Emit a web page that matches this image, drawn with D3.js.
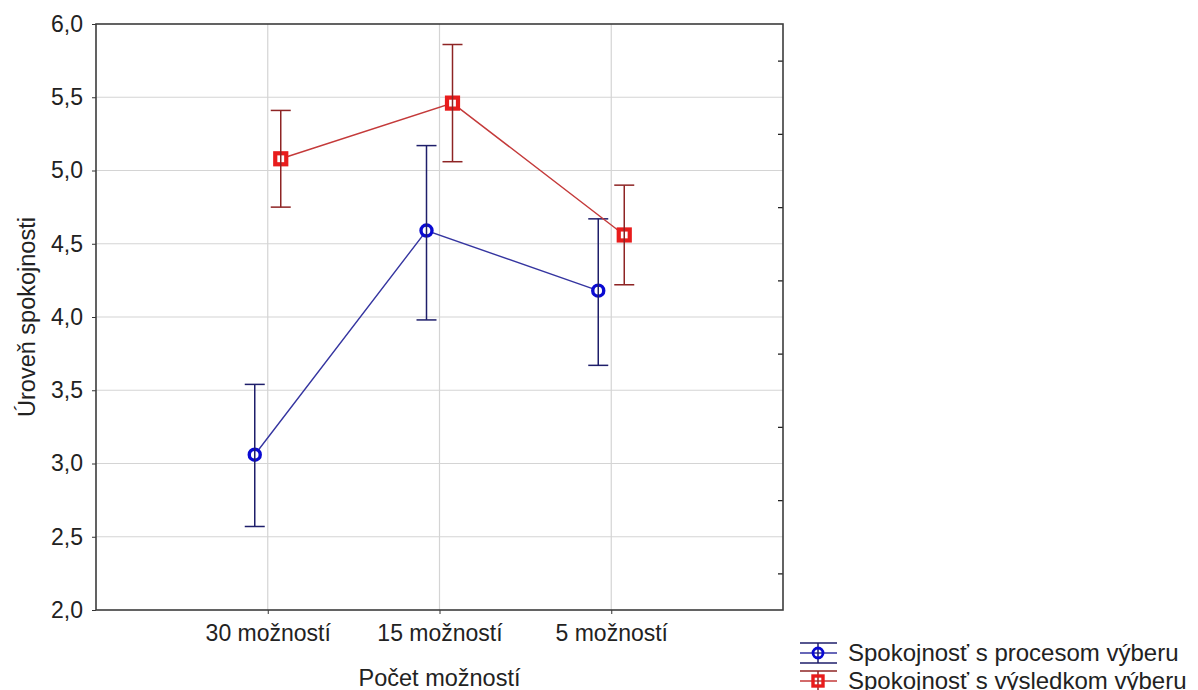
<!DOCTYPE html>
<meta charset="utf-8">
<head>
<script src="https://d3js.org/d3.v7.min.js"></script>
<style>
  body { margin: 0; background: #fff; font-family: "Liberation Sans", Arial, sans-serif; }
</style>
</head>
<body>
<div id="my_dataviz"></div>
<script>

// categories on the x axis
var categories = ["30 možností", "15 možností", "5 možností"];

// series 1: satisfaction with the process
var procesMean = [3.06, 4.59, 4.18];
var procesLow  = [2.57, 3.98, 3.67];
var procesHigh = [3.54, 5.17, 4.67];

// series 2: satisfaction with the result
var vysledokMean = [5.08, 5.46, 4.56];
var vysledokLow  = [4.75, 5.06, 4.22];
var vysledokHigh = [5.41, 5.86, 4.90];

var yTicks = [2.0, 2.5, 3.0, 3.5, 4.0, 4.5, 5.0, 5.5, 6.0];
var yMinor = [2.25, 2.75, 3.25, 3.75, 4.25, 4.75, 5.25, 5.75];

var seriesNames = ["Spokojnosť s procesom výberu", "Spokojnosť s výsledkom výberu"];

// plot area
var margin = {top: 24, right: 415, bottom: 80, left: 96},
    W = 1198, H = 690,
    width = W - margin.left - margin.right,
    height = H - margin.top - margin.bottom;

var svg = d3.select("#my_dataviz")
  .append("svg")
    .attr("width", W)
    .attr("height", H)
  .append("g")
    .attr("transform", "translate(" + margin.left + "," + margin.top + ")");

var x = d3.scalePoint()
  .domain(categories)
  .range([0, width])
  .padding(1);

var y = d3.scaleLinear()
  .domain([2, 6])
  .range([height, 0]);

var fmt = function(d) { return d3.format(".1f")(d).replace(".", ","); };

// grid lines
svg.append("g")
  .selectAll("line")
  .data(yTicks.slice(1, -1))
  .enter().append("line")
    .attr("x1", 0).attr("x2", width)
    .attr("y1", function(d) { return y(d); })
    .attr("y2", function(d) { return y(d); })
    .attr("stroke", "#d4d4d4").attr("stroke-width", 1.2);

svg.append("g")
  .selectAll("line")
  .data(categories)
  .enter().append("line")
    .attr("x1", function(d) { return x(d); })
    .attr("x2", function(d) { return x(d); })
    .attr("y1", 0).attr("y2", height)
    .attr("stroke", "#d4d4d4").attr("stroke-width", 1.2);

// left axis
var yAxis = svg.append("g")
  .call(d3.axisLeft(y).tickValues(yTicks).tickFormat(fmt).tickSize(4).tickPadding(9));
yAxis.select(".domain").remove();
yAxis.selectAll("line").attr("stroke", "#333");
yAxis.selectAll("text")
  .style("font-size", "23px")
  .style("font-family", "Liberation Sans, Arial, sans-serif")
  .attr("fill", "#222");

// right axis, minor ticks pointing in
var yRight = svg.append("g")
  .attr("transform", "translate(" + width + ",0)")
  .call(d3.axisRight(y).tickValues(yMinor).tickSize(-5).tickFormat(""));
yRight.select(".domain").remove();
yRight.selectAll("line").attr("stroke", "#222").attr("stroke-width", 1.3);

// bottom axis
var xAxis = svg.append("g")
  .attr("transform", "translate(0," + height + ")")
  .call(d3.axisBottom(x).tickSize(4).tickPadding(11));
xAxis.select(".domain").remove();
xAxis.selectAll("line").attr("stroke", "#333");
xAxis.selectAll("text")
  .style("font-size", "23px")
  .style("font-family", "Liberation Sans, Arial, sans-serif")
  .attr("fill", "#222");

// frame
svg.append("rect")
  .attr("x", 0).attr("y", 0)
  .attr("width", width).attr("height", height)
  .attr("fill", "none")
  .attr("stroke", "#3c3c3c")
  .attr("stroke-width", 1.6);

// axis titles
svg.append("text")
  .attr("transform", "translate(" + (width / 2) + "," + (height + 76) + ")")
  .style("text-anchor", "middle")
  .style("font-size", "23.5px")
  .attr("fill", "#222")
  .text("Počet možností");

svg.append("text")
  .attr("transform", "translate(" + (35 - margin.left) + "," + (height / 2) + ") rotate(-90)")
  .style("text-anchor", "middle")
  .style("font-size", "23.5px")
  .attr("fill", "#222")
  .text("Úroveň spokojnosti");

// series
var series = [
  {mean: procesMean, low: procesLow, high: procesHigh, dx: -13,
   line: "#3535a0", err: "#1e1e6a", mark: "#0a0ad2", shape: "circle"},
  {mean: vysledokMean, low: vysledokLow, high: vysledokHigh, dx: 13,
   line: "#c43a3a", err: "#8e2424", mark: "#e81c1c", shape: "square"}
];

series.forEach(function(s) {
  var pts = categories.map(function(c, i) {
    return {cx: x(c) + s.dx, m: s.mean[i], lo: s.low[i], hi: s.high[i]};
  });

  svg.append("path")
    .datum(pts)
    .attr("d", d3.line()
      .x(function(d) { return d.cx; })
      .y(function(d) { return y(d.m); }))
    .attr("fill", "none")
    .attr("stroke", s.line)
    .attr("stroke-width", 1.4);

  var g = svg.append("g");
  pts.forEach(function(d) {
    if (s.shape == "circle") {
      g.append("circle")
        .attr("cx", d.cx).attr("cy", y(d.m)).attr("r", 5.5)
        .attr("fill", "#fff").attr("stroke", s.mark).attr("stroke-width", 3.4);
    } else {
      g.append("rect")
        .attr("x", d.cx - 5.5).attr("y", y(d.m) - 5.5)
        .attr("width", 11).attr("height", 11)
        .attr("fill", "#fff").attr("stroke", s.mark).attr("stroke-width", 4.2);
    }
    g.append("line")
      .attr("x1", d.cx).attr("x2", d.cx)
      .attr("y1", y(d.lo)).attr("y2", y(d.hi))
      .attr("stroke", s.err).attr("stroke-width", 1.5);
    [d.lo, d.hi].forEach(function(v) {
      g.append("line")
        .attr("x1", d.cx - 10).attr("x2", d.cx + 10)
        .attr("y1", y(v)).attr("y2", y(v))
        .attr("stroke", s.err).attr("stroke-width", 1.5);
    });
  });
});

// legend
var legend = d3.select("svg").append("g")
  .attr("transform", "translate(800,0)");

[653, 681].forEach(function(cy, i) {
  var s = series[i];
  var row = legend.append("g");
  [cy - 10, cy + 10].forEach(function(ly) {
    row.append("line")
      .attr("x1", 0).attr("x2", 37).attr("y1", ly).attr("y2", ly)
      .attr("stroke", s.err).attr("stroke-width", 1.5);
  });
  row.append("line")
    .attr("x1", 0).attr("x2", 37).attr("y1", cy).attr("y2", cy)
    .attr("stroke", s.line).attr("stroke-width", 1.5);
  row.append("line")
    .attr("x1", 18).attr("x2", 18).attr("y1", cy - 10).attr("y2", cy + 10)
    .attr("stroke", s.err).attr("stroke-width", 1.5);
  if (s.shape == "circle") {
    row.append("circle")
      .attr("cx", 18).attr("cy", cy).attr("r", 5)
      .attr("fill", "none").attr("stroke", s.mark).attr("stroke-width", 2.8);
  } else {
    row.append("rect")
      .attr("x", 13).attr("y", cy - 5).attr("width", 10).attr("height", 10)
      .attr("fill", "none").attr("stroke", s.mark).attr("stroke-width", 3.4);
  }
  row.append("text")
    .attr("x", 48).attr("y", cy + 8)
    .style("font-size", "24px")
    .attr("fill", "#222")
    .text(seriesNames[i]);
});

</script>
</body>
